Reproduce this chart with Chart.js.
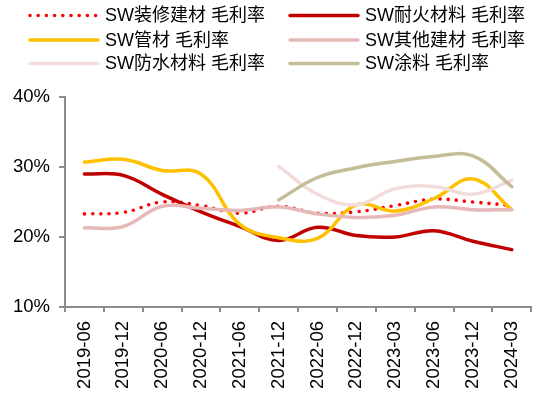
<!DOCTYPE html>
<html>
<head>
<meta charset="utf-8">
<script src="https://cdn.jsdelivr.net/npm/chart.js@4"></script>
<style>
  html, body { margin: 0; padding: 0; background: #fff; overflow: hidden; }
  #wrap { width: 540px; height: 394px; position: relative; overflow: hidden; }
  #c { position: absolute; left: 0; top: 0; }
</style>
</head>
<body>
<div id="wrap"><canvas id="c" width="543" height="394"></canvas></div>
<script>
// Reporting periods
const periods = ['2019-06','2019-12','2020-06','2020-12','2021-06','2021-12','2022-06','2022-12','2023-03','2023-06','2023-12','2024-03'];

// Gross margin by sub-industry (%)
const decoration   = [23.3, 23.5, 25.0, 24.5, 23.4, 24.4, 23.4, 23.6, 24.5, 25.4, 25.0, 24.5];
const refractory   = [29.0, 28.8, 26.1, 23.6, 21.5, 19.5, 21.4, 20.2, 20.0, 20.9, 19.4, 18.2];
const pipes        = [30.7, 31.1, 29.5, 29.0, 21.8, 19.9, 19.8, 24.6, 23.7, 25.5, 28.3, 23.9];
const otherBuild   = [21.3, 21.5, 24.4, 24.1, 23.8, 24.3, 23.3, 22.8, 23.1, 24.3, 23.9, 23.9];
const waterproof   = [null, null, null, null, null, 30.1, 26.1, 24.6, 26.9, 27.2, 26.1, 28.1];
const coatings     = [null, null, null, null, null, 25.3, 28.5, 29.9, 30.8, 31.5, 31.6, 27.2];

const seriesNames = ['SW装修建材 毛利率','SW耐火材料 毛利率','SW管材 毛利率','SW其他建材 毛利率','SW防水材料 毛利率','SW涂料 毛利率'];
const yTicks = [10, 20, 30, 40];

const AXIS = '#8c8c8c';
const FONT_FAMILY = '"Liberation Sans", Arial, "Noto Sans CJK SC", sans-serif';

function line(label, data, color, extra) {
  return Object.assign({
    label, data,
    borderColor: color,
    backgroundColor: color,
    borderWidth: 3.5,
    pointRadius: 0,
    pointHoverRadius: 0,
    tension: 0.4,
    fill: false,
    spanGaps: false,
    borderCapStyle: 'round',
    borderJoinStyle: 'round'
  }, extra || {});
}

const datasets = [
  line(seriesNames[0], decoration, '#ff0000', { borderDash: [0, 8.2], borderWidth: 3.6 }),
  line(seriesNames[1], refractory, '#c00000'),
  line(seriesNames[2], pipes, '#ffc000'),
  line(seriesNames[3], otherBuild, '#e6b9b8'),
  line(seriesNames[4], waterproof, '#f2dcdb'),
  line(seriesNames[5], coatings, '#c4bd97')
];
// later series drawn above earlier ones
datasets.forEach((d, i) => { d.order = datasets.length - i; });

// Two-column legend drawn on the canvas
const twoColLegend = {
  id: 'twoColLegend',
  afterDraw(chart) {
    const ctx = chart.ctx;
    const cols = [{ x0: 30, x1: 98, tx: 105 }, { x0: 290, x1: 358, tx: 365 }];
    const rows = [15.5, 40, 63.5];
    ctx.save();
    chart.data.datasets.forEach((ds, i) => {
      const c = cols[i % 2];
      const y = rows[Math.floor(i / 2)];
      ctx.beginPath();
      ctx.lineWidth = ds.borderWidth;
      ctx.strokeStyle = ds.borderColor;
      ctx.lineCap = 'round';
      ctx.setLineDash(ds.borderDash || []);
      ctx.moveTo(c.x0, y);
      ctx.lineTo(c.x1, y);
      ctx.stroke();
      ctx.setLineDash([]);
      ctx.fillStyle = '#000';
      ctx.font = '18px ' + FONT_FAMILY;
      ctx.textBaseline = 'middle';
      ctx.textAlign = 'left';
      ctx.fillText(ds.label, c.tx, y + 1);
    });
    ctx.restore();
  }
};

new Chart(document.getElementById('c'), {
  type: 'line',
  data: { labels: periods, datasets },
  options: {
    responsive: false,
    animation: false,
    devicePixelRatio: 1,
    layout: { padding: { top: 97, left: 0, right: 0, bottom: 0 } },
    plugins: {
      legend: { display: false },
      tooltip: { enabled: false }
    },
    scales: {
      x: {
        type: 'category',
        offset: true,
        grid: { display: true, offset: true, drawOnChartArea: false, drawTicks: true, tickLength: 5, color: AXIS, lineWidth: 2 },
        border: { display: true, color: AXIS, width: 2 },
        ticks: {
          autoSkip: false, minRotation: 90, maxRotation: 90, padding: 9,
          color: '#000', font: { family: FONT_FAMILY, size: 18.5 }
        },
        afterFit(scale) { scale.height = 87; }
      },
      y: {
        min: yTicks[0],
        max: yTicks[yTicks.length - 1],
        afterBuildTicks(scale) { scale.ticks = yTicks.map(v => ({ value: v })); },
        grid: { display: true, drawOnChartArea: false, drawTicks: true, tickLength: 6, color: AXIS, lineWidth: 2 },
        border: { display: true, color: AXIS, width: 2 },
        ticks: {
          padding: 9, color: '#000',
          font: { family: FONT_FAMILY, size: 18.5 },
          callback: v => v + '%'
        },
        afterFit(scale) { scale.width = 65; }
      }
    }
  },
  plugins: [twoColLegend]
});
</script>
</body>
</html>
